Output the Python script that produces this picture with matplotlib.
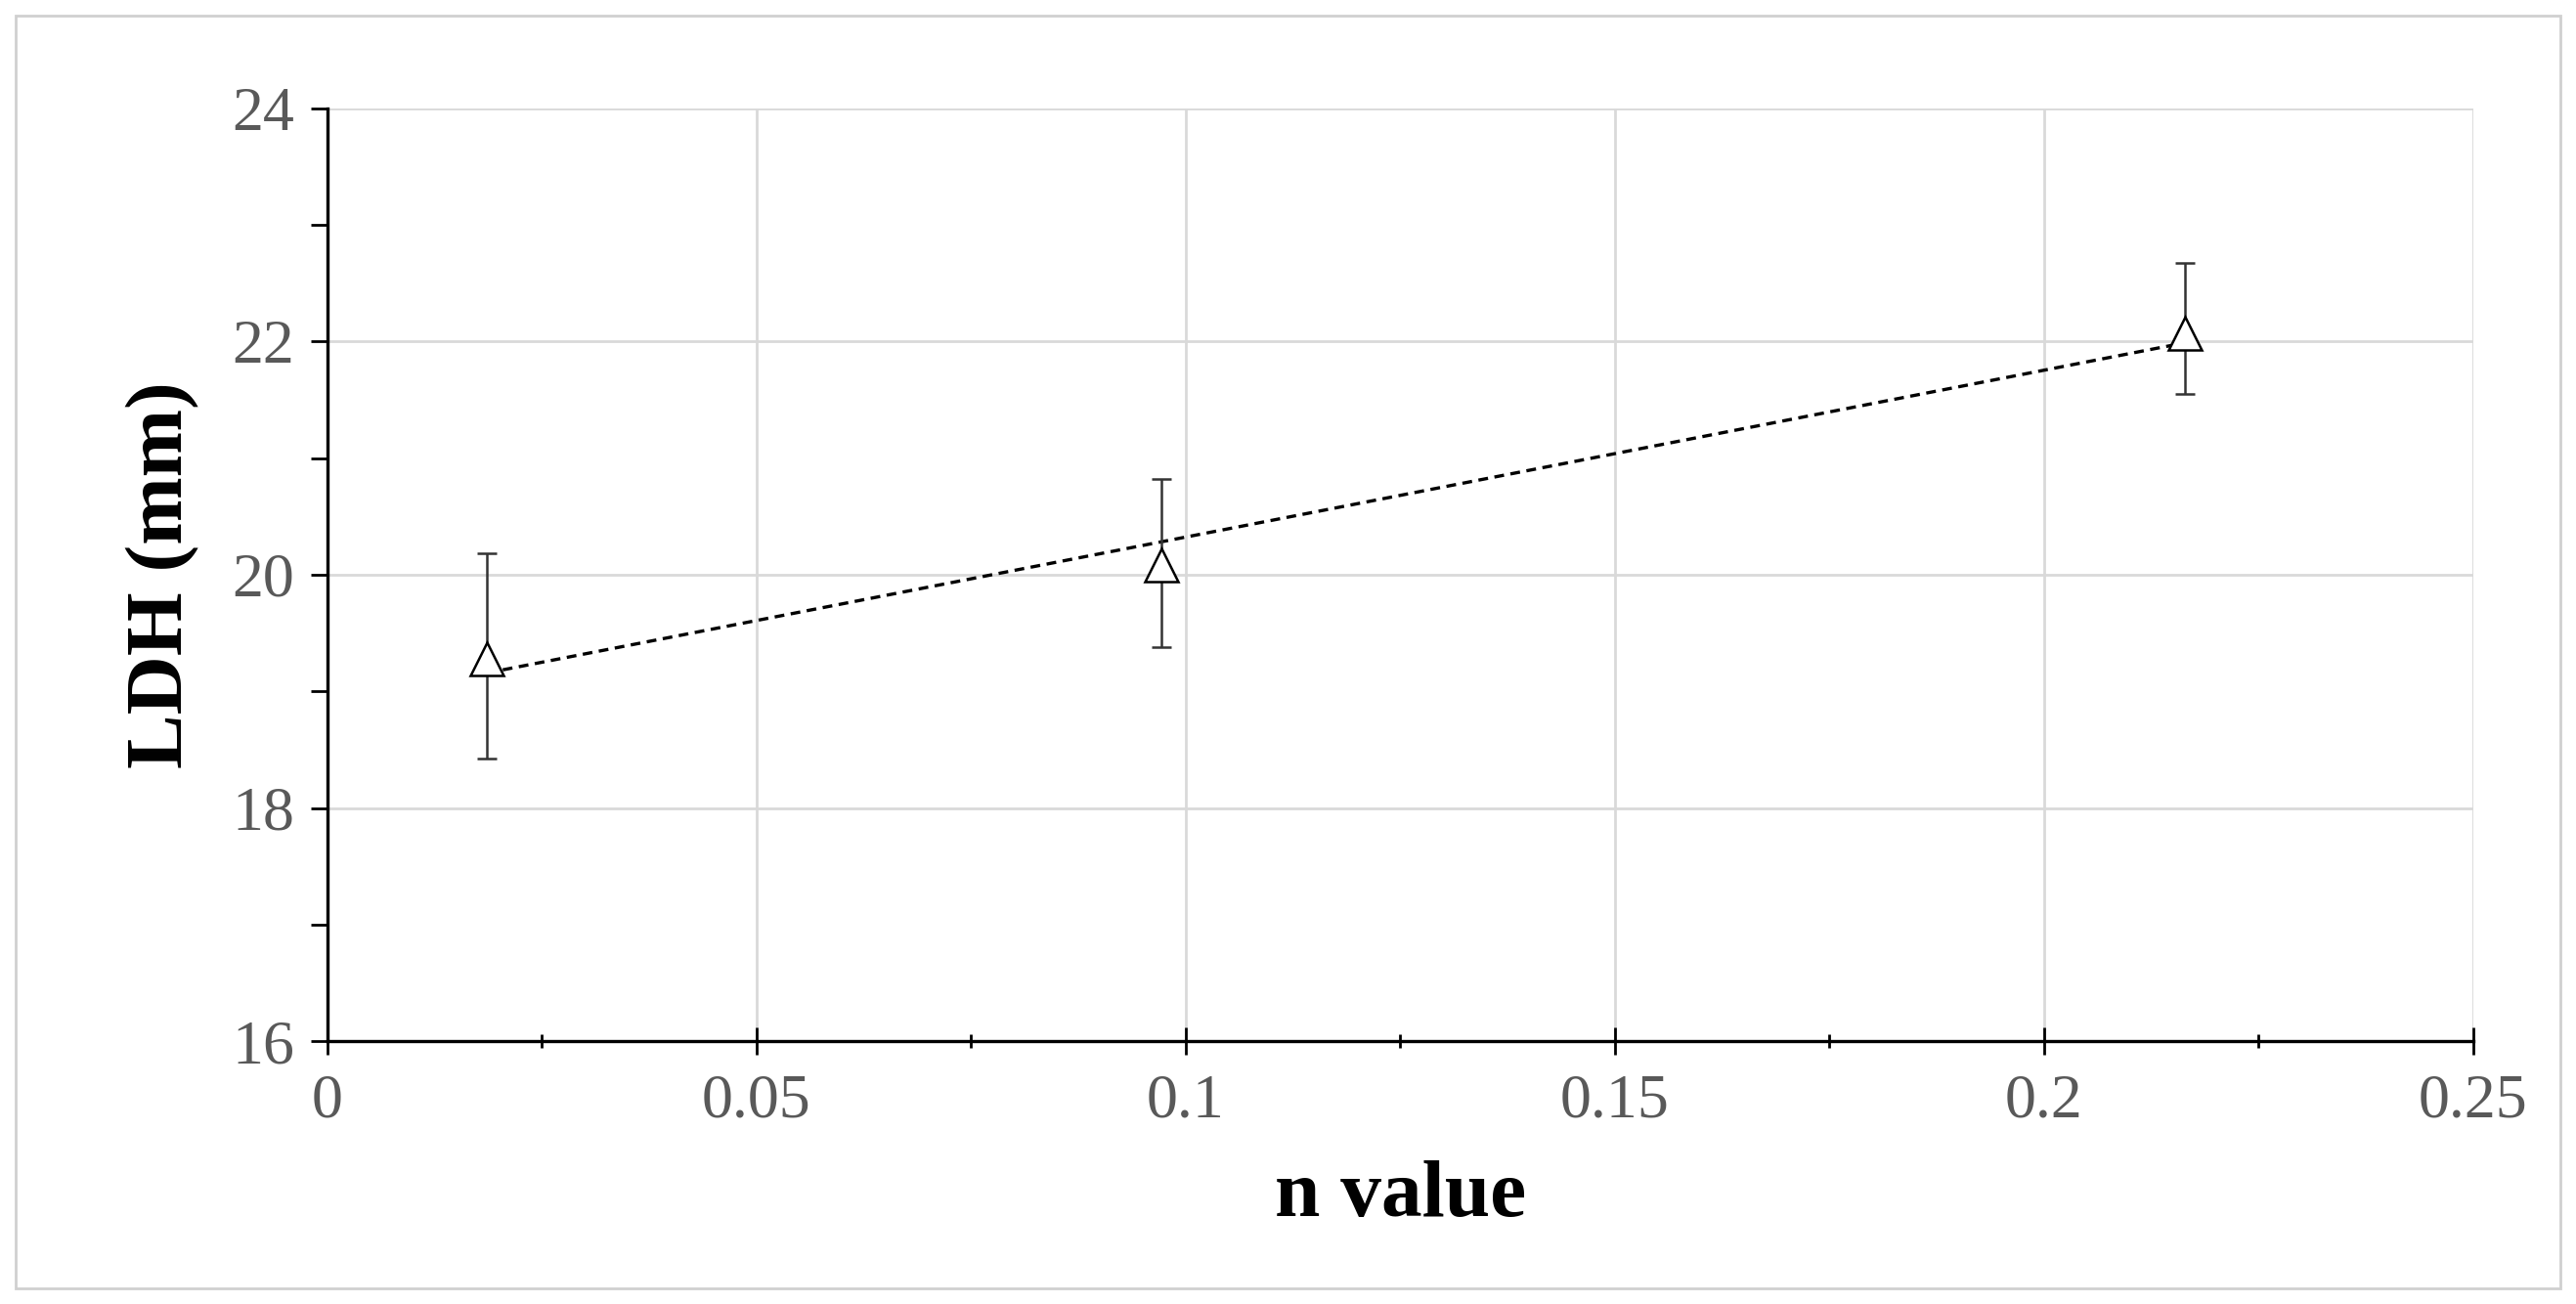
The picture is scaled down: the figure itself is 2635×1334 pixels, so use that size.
import numpy as np
import matplotlib.pyplot as plt
from matplotlib.patches import Rectangle

n_value = [0.0186, 0.0972, 0.2165]
ldh = [19.28, 20.08, 22.07]
err_low = [18.42, 19.38, 21.55]
err_high = [20.18, 20.82, 22.67]

plt.rcParams['font.family'] = ['Liberation Serif', 'DejaVu Serif']

fig = plt.figure(figsize=(26.35, 13.34), dpi=100)
fig.patches.append(Rectangle((0.006, 0.012), 0.988, 0.976, transform=fig.transFigure,
                             fill=False, edgecolor='#d0d0d0', linewidth=2))
ax = fig.add_axes([0.127, 0.2015, 0.833, 0.7155])

x = np.array(n_value); y = np.array(ldh)
yerr = [y - np.array(err_low), np.array(err_high) - y]
ax.errorbar(x, y, yerr=yerr, fmt='^', mfc='white', mec='black', ms=24, mew=1.8,
            ecolor='#333333', elinewidth=1.8, capsize=7, capthick=1.8, zorder=3)
k, b = np.polyfit(x, y, 1)
xs = np.array([x.min(), x.max()])
ax.plot(xs, k * xs + b, ls=(0, (3, 2)), color='black', lw=2.4, zorder=2)

ax.set_xlim(0, 0.25)
ax.set_ylim(16, 24)
ax.set_xticks([0, 0.05, 0.1, 0.15, 0.2, 0.25])
ax.set_xticklabels(['0', '0.05', '0.1', '0.15', '0.2', '0.25'])
ax.set_yticks([16, 18, 20, 22, 24])
ax.set_xticks(np.arange(0.025, 0.25, 0.05), minor=True)
ax.set_yticks([17, 19, 21, 23], minor=True)
ax.grid(True, which='major', color='#d9d9d9', lw=2)
ax.set_axisbelow(True)
for s in ['top', 'right']:
    ax.spines[s].set_visible(False)
for s in ['left', 'bottom']:
    ax.spines[s].set_linewidth(2.4)
ax.tick_params(axis='x', which='both', direction='inout', length=20, width=2, labelsize=46,
               labelcolor='#595959', pad=14)
ax.tick_params(axis='x', which='minor', length=10)
ax.tick_params(axis='y', which='both', direction='out', length=12, width=2, labelsize=46,
               labelcolor='#595959', pad=12)
ax.tick_params(axis='y', which='minor', length=12)
ax.set_xlabel('n value', fontsize=60, fontweight='bold', labelpad=22)
ax.set_ylabel('LDH (mm)', fontsize=60, fontweight='bold', labelpad=24)

fig.savefig('out.png', dpi=100)
